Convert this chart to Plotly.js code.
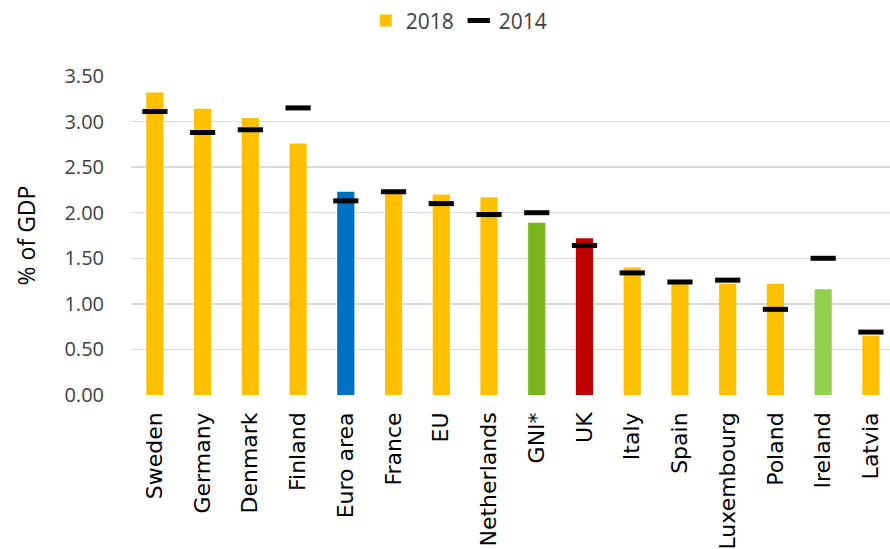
<!DOCTYPE html>
<html>
<head>
<meta charset="utf-8">
<script src="https://cdn.plot.ly/plotly-3.0.1.min.js"></script>
<style>html,body{margin:0;padding:0;background:#fff;}#chart{width:890px;height:549px;}</style>
</head>
<body>
<div id="chart"></div>
<script>
const categories = ["Sweden","Germany","Denmark","Finland","Euro area","France","EU","Netherlands","GNI*","UK","Italy","Spain","Luxembourg","Poland","Ireland","Latvia"];
const values2018 = [3.32,3.14,3.04,2.76,2.23,2.21,2.20,2.17,1.89,1.72,1.40,1.22,1.22,1.22,1.16,0.65];
const values2014 = [3.11,2.88,2.91,3.15,2.13,2.23,2.10,1.98,2.00,1.64,1.34,1.24,1.26,0.94,1.50,0.69];
const barColors = ["#FFC000","#FFC000","#FFC000","#FFC000","#0070C0","#FFC000","#FFC000","#FFC000","#7AB51D","#C00000","#FFC000","#FFC000","#FFC000","#FFC000","#92D050","#FFC000"];
const yTicks = [0,0.5,1,1.5,2,2.5,3,3.5];

const font = "Open Sans, Noto Sans, sans-serif";
const traces = [
  {type:"bar", name:"2018", x:categories, y:values2018, width:0.36,
   marker:{color:barColors}, hoverinfo:"x+y"},
  {type:"scatter", mode:"markers", name:"2014", x:categories, y:values2014,
   marker:{symbol:"line-ew", size:18, color:"#000", line:{color:"#000", width:5}}}
];
const layout = {
  width:890, height:549,
  margin:{l:131, r:0, t:76, b:154},
  paper_bgcolor:"#fff", plot_bgcolor:"#fff",
  font:{family:font, color:"#404040"},
  showlegend:true,
  legend:{orientation:"h", xref:"container", yref:"container", x:0.516, xanchor:"center", y:0.962, yanchor:"middle",
          font:{size:21, color:"#404040"}, traceorder:"normal", itemwidth:30},
  xaxis:{type:"category", range:[-0.5,15.4], tickangle:-90,
         tickfont:{family:"DejaVu Sans, sans-serif", size:22, color:"#000"},
         showgrid:false, zeroline:false, showline:false, ticks:"", ticklabelstandoff:12},
  yaxis:{range:[0,3.5], tickvals:yTicks, ticktext:yTicks.map(v=>v.toFixed(2)),
         tickfont:{size:20, color:"#404040"}, gridcolor:"#D9D9D9", gridwidth:1.5,
         zeroline:false, showline:false, ticks:"", ticklabelstandoff:26,
         title:{text:"% of GDP", font:{size:23, color:"#000"}, standoff:22}},
  bargap:0.6
};
Plotly.newPlot("chart", traces, layout, {displayModeBar:false, staticPlot:true});
</script>
</body>
</html>
